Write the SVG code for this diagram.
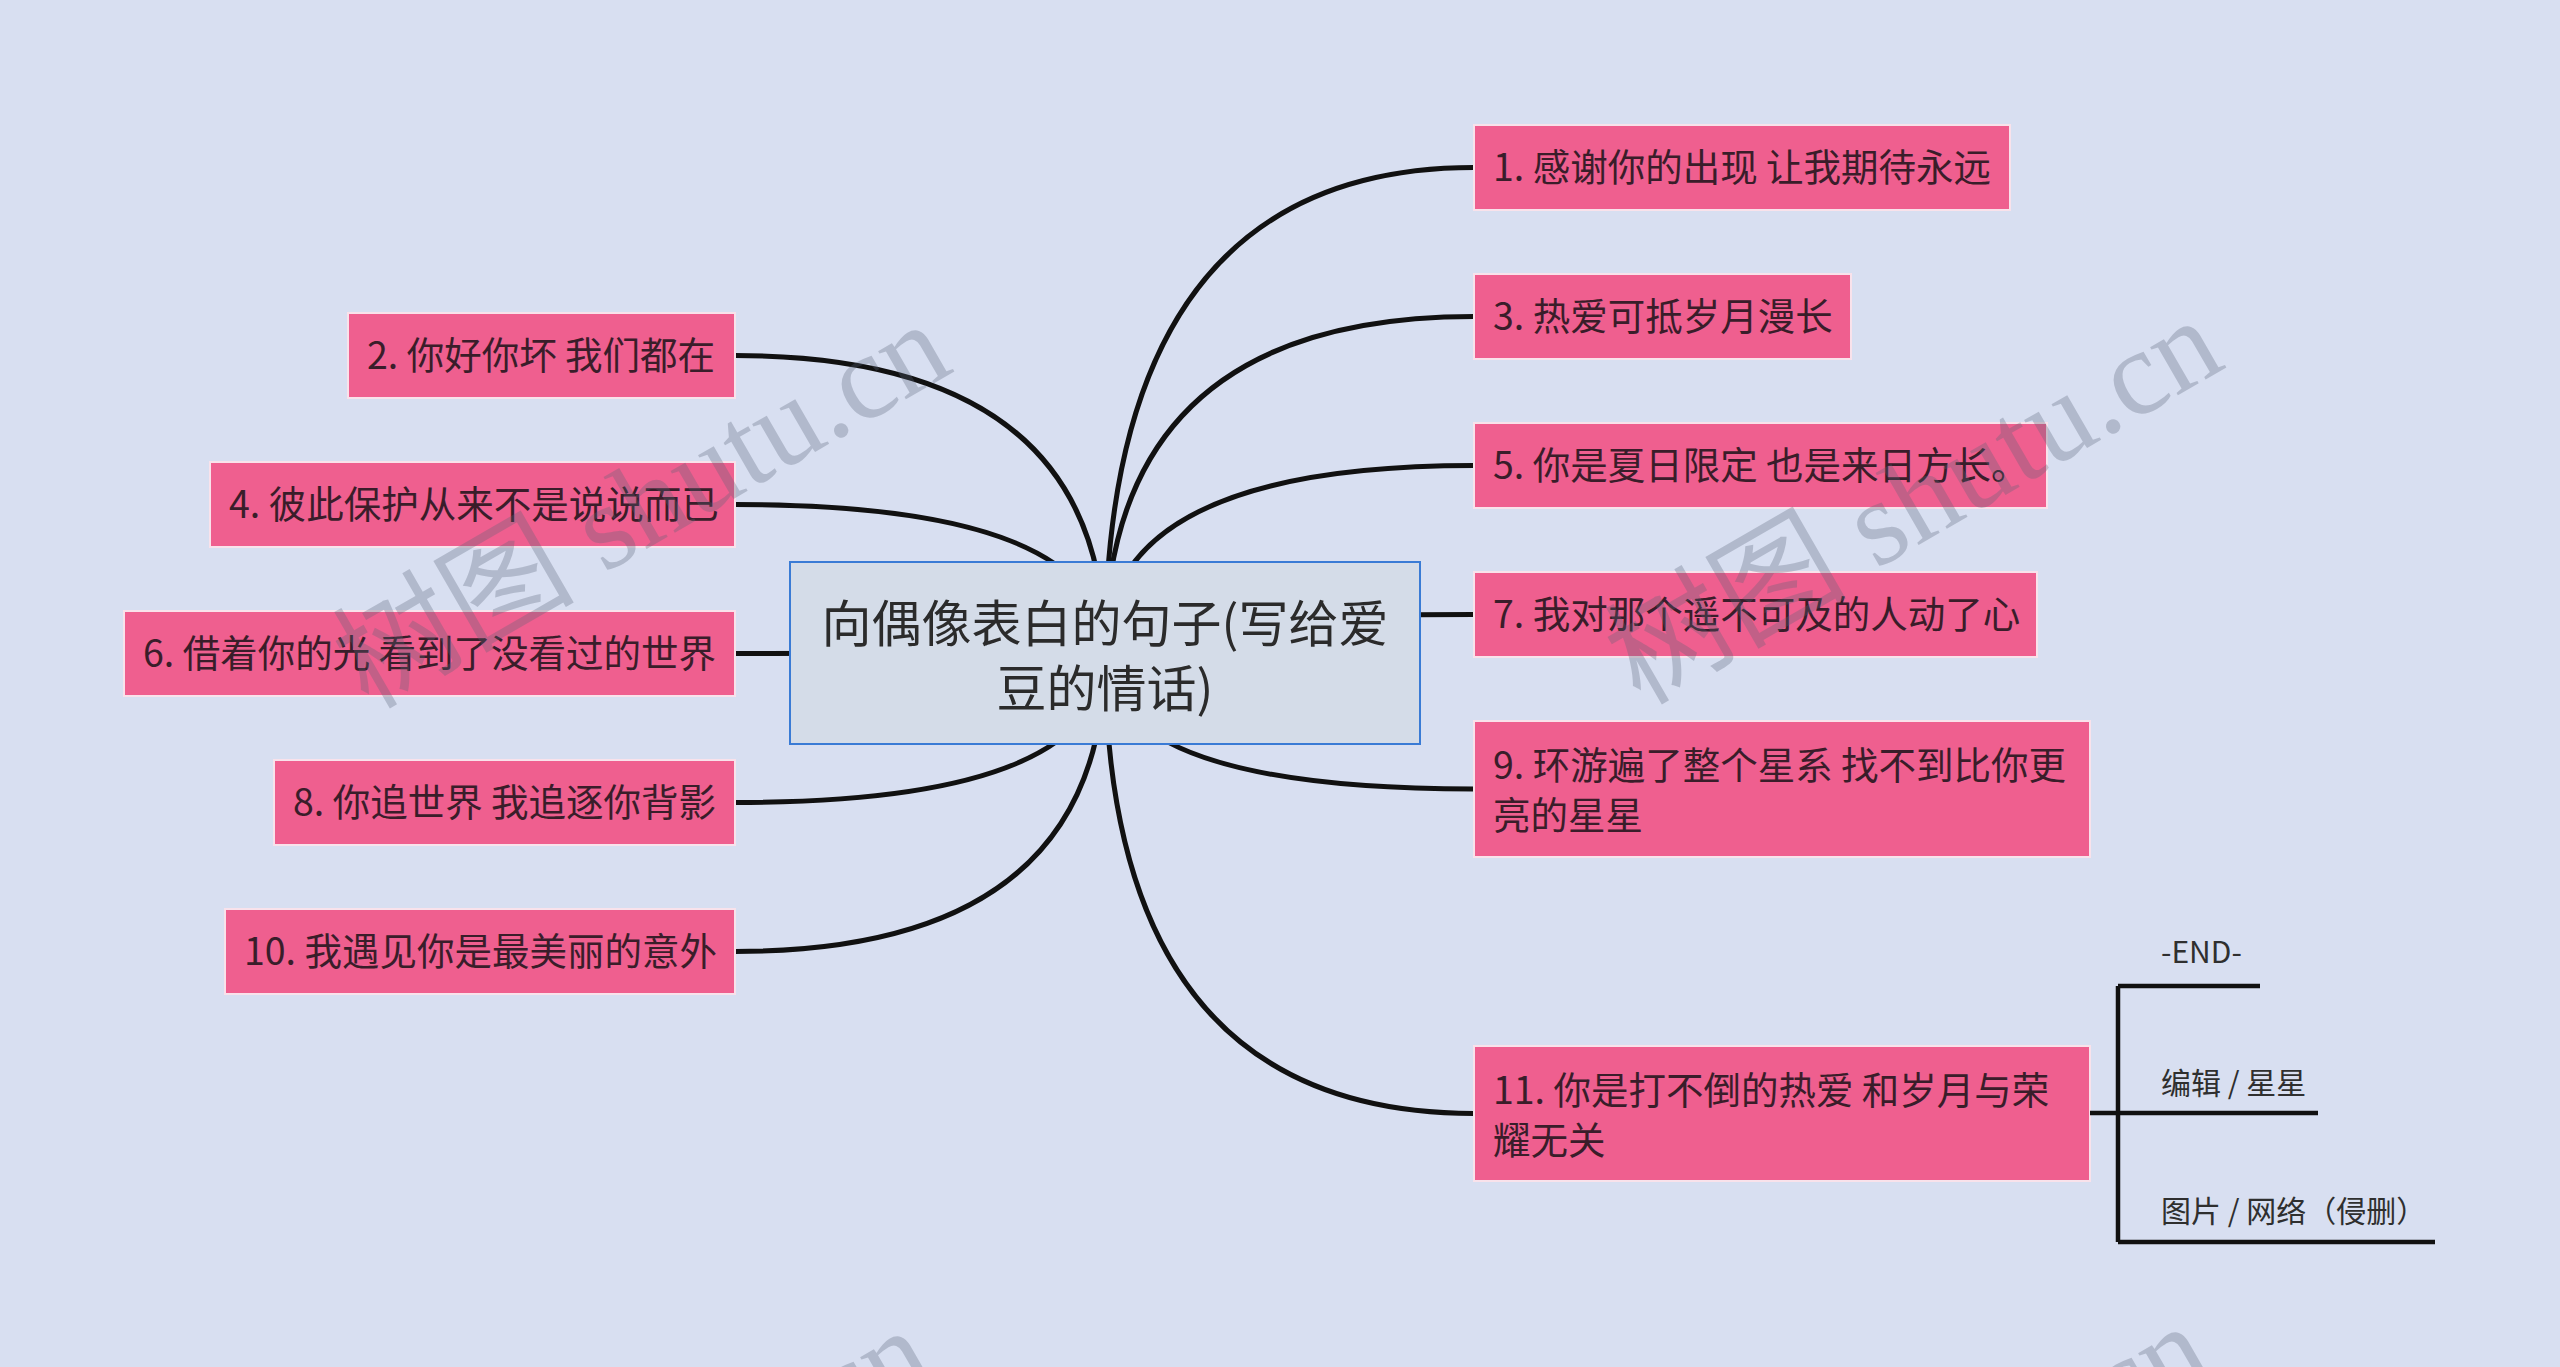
<svg xmlns="http://www.w3.org/2000/svg" width="2560" height="1367" viewBox="0 0 2560 1367">
<style>
.bg{fill:#d8dff1}
.node rect{fill:#ef5f8f;stroke:#f9e2eb;stroke-width:2}
.node text{font-family:"Noto Sans CJK SC","Noto Sans",sans-serif;font-size:37.5px;fill:#3a1d2a}
.root rect{fill:#d4dce8;stroke:#3a7bd5;stroke-width:2}
.root text{font-family:"Noto Sans CJK SC","Noto Sans",sans-serif;font-size:50px;fill:#2b2b2b;text-anchor:middle}
.conn path{fill:none;stroke:#111;stroke-width:5;stroke-linecap:butt}
.sub path{fill:none;stroke:#111;stroke-width:4.5}
.sub text{font-family:"Noto Sans CJK SC","Noto Sans",sans-serif;font-size:30px;fill:#2f2f2f}
.wm{font-family:"Liberation Serif","Noto Sans CJK SC",serif;font-size:121px;fill:#5a6478;opacity:0.3}
</style>
<rect class="bg" x="0" y="0" width="2560" height="1367"/>
<g id="connectors" class="conn">
<path d="M1105,653 Q1105,167.5 1474,167.5"/>
<path d="M1105,653 Q1105,316.5 1474,316.5"/>
<path d="M1105,653 Q1105,465.5 1474,465.5"/>
<path d="M1105,653 Q1105,614.5 1474,614.5"/>
<path d="M1105,653 Q1105,789 1474,789"/>
<path d="M1105,653 Q1105,1113.5 1474,1113.5"/>
<path d="M1105,653 Q1105,355.5 735,355.5"/>
<path d="M1105,653 Q1105,504.5 735,504.5"/>
<path d="M1105,653 Q1105,653.5 735,653.5"/>
<path d="M1105,653 Q1105,802.5 735,802.5"/>
<path d="M1105,653 Q1105,951.5 735,951.5"/>
</g>
<g id="root" class="root">
<rect x="790" y="562" width="630" height="182"/>
<text x="1105" y="642">向偶像表白的句子(写给爱</text>
<text x="1105" y="707">豆的情话)</text>
</g>
<g id="n1" class="node"><rect x="1474" y="125" width="536" height="85"/><text x="1493" y="181">1. 感谢你的出现 让我期待永远</text></g>
<g id="n3" class="node"><rect x="1474" y="274" width="377" height="85"/><text x="1493" y="330">3. 热爱可抵岁月漫长</text></g>
<g id="n5" class="node"><rect x="1474" y="423" width="573" height="85"/><text x="1493" y="479">5. 你是夏日限定 也是来日方长。</text></g>
<g id="n7" class="node"><rect x="1474" y="572" width="563" height="85"/><text x="1493" y="628">7. 我对那个遥不可及的人动了心</text></g>
<g id="n9" class="node"><rect x="1474" y="721" width="616" height="136"/><text x="1493" y="779">9. 环游遍了整个星系 找不到比你更</text><text x="1493" y="829">亮的星星</text></g>
<g id="n11" class="node"><rect x="1474" y="1046" width="616" height="135"/><text x="1493" y="1104">11. 你是打不倒的热爱 和岁月与荣</text><text x="1493" y="1154">耀无关</text></g>
<g id="n2" class="node"><rect x="348" y="313" width="387" height="85"/><text x="367" y="369">2. 你好你坏 我们都在</text></g>
<g id="n4" class="node"><rect x="210" y="462" width="525" height="85"/><text x="229" y="518">4. 彼此保护从来不是说说而已</text></g>
<g id="n6" class="node"><rect x="124" y="611" width="611" height="85"/><text x="143" y="667">6. 借着你的光 看到了没看过的世界</text></g>
<g id="n8" class="node"><rect x="274" y="760" width="461" height="85"/><text x="293" y="816">8. 你追世界 我追逐你背影</text></g>
<g id="n10" class="node"><rect x="225" y="909" width="510" height="85"/><text x="244" y="965">10. 我遇见你是最美丽的意外</text></g>
<g id="sub11" class="sub">
<path d="M2090,1113 H2118 M2118,986 V1242 M2118,986 H2260 M2118,1113 H2318 M2118,1242 H2435"/>
<text x="2161" y="963">-END-</text>
<text x="2161" y="1094">编辑 / 星星</text>
<text x="2161" y="1222">图片 / 网络（侵删）</text>
</g>
<g id="watermarks">
<text class="wm" transform="translate(368,710) rotate(-30)">树图 shutu.cn</text>
<text class="wm" transform="translate(1640,706) rotate(-30)">树图 shutu.cn</text>
<text class="wm" transform="translate(350,1716) rotate(-30)">树图 shutu.cn</text>
<text class="wm" transform="translate(1628,1712) rotate(-30)">树图 shutu.cn</text>
</g>
</svg>
